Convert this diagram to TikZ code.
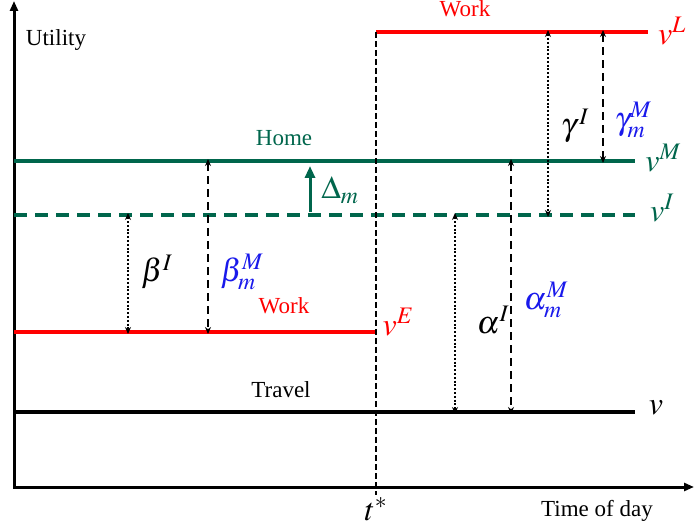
\documentclass[tikz,border=0pt]{standalone}
\usepackage{mathptmx}
\usepackage{fontspec}
\setmainfont{Liberation Serif}
\newfontfamily\timesfont{Liberation Serif}
\usetikzlibrary{arrows.meta}
\definecolor{workred}{RGB}{255,0,0}
\definecolor{homegreen}{RGB}{0,102,76}
\definecolor{markblue}{RGB}{25,25,235}
\tikzset{
  every picture/.style={line join=miter, >=Stealth},
  axis/.style={line width=3pt, {Triangle[length=10pt,width=8pt]}-{Triangle[length=10pt,width=8pt]}},
  level/.style={line width=4pt},
  gap/.style={line width=2.4pt, dash pattern=on 8pt off 5pt, {Stealth[length=7pt,width=6pt]}-{Stealth[length=7pt,width=6pt]}},
  dotgap/.style={line width=2.6pt, dash pattern=on 2pt off 1.8pt, {Stealth[length=7pt,width=6pt]}-{Stealth[length=7pt,width=6pt]}},
  txt/.style={font=\timesfont\fontsize{23}{28}\selectfont},
  sym/.style={font=\fontsize{32}{38}\selectfont},
}
\begin{document}
\begin{tikzpicture}[x=1pt,y=-1pt]
\useasboundingbox (0,0) rectangle (694,529);
% axes
\coordinate (O) at (14,487);
\coordinate (ytop) at (14,1);
\coordinate (xend) at (694,487);
\draw[axis] (ytop) -- (O) -- (xend);
% utility levels
\foreach \n/\xa/\xb/\y in {L/376/648/32, M/14/635/161, I/14/635/215, E/14/376/332, T/14/635/412}{
  \coordinate (\n0) at (\xa,\y); \coordinate (\n1) at (\xb,\y);}
\draw[level, workred] (L0) -- (L1);
\draw[level, homegreen] (M0) -- (M1);
\draw[level, homegreen, dash pattern=on 13pt off 8pt] (I0) -- (I1);
\draw[level, workred] (E0) -- (E1);
\draw[level] (T0) -- (T1);
% t star
\coordinate (tb) at (376,495);
\draw[line width=1.8pt, dash pattern=on 6pt off 3pt] (L0) -- (tb);
% gaps between levels
\foreach \x/\a/\b/\s in {128/I/E/dotgap, 208/M/E/gap, 455/I/T/dotgap, 511/M/T/gap, 548/L/I/dotgap, 603/L/M/gap}{
  \coordinate (m\x) at (\x,0);
  \draw[\s] ([yshift=2pt]m\x |- \a0) -- ([yshift=-2pt]m\x |- \b0);}
\coordinate (D0) at (310,212);
\coordinate (D1) at (310,166);
\draw[homegreen, line width=3pt, -{Triangle[length=12pt,width=10pt]}] (D0) -- (D1);
% labels
\node[txt] (util) at (56,40) {Utility};
\node[txt] (tod) at (597,511) {Time of day};
\node[txt, workred] (workL) at (465,9) {Work};
\node[txt, homegreen] (home) at (284,138) {Home};
\node[txt, workred] (workE) at (284,306) {Work};
\node[txt] (travel) at (281,390) {Travel};
\node[sym, workred] (vL) at (672,31) {$v^L$};
\node[sym, homegreen] (vM) at (663,158) {$v^M$};
\node[sym, homegreen] (vI) at (662,208) {$v^I$};
\node[sym, workred] (vE) at (398,322) {$v^E$};
\node[sym] (v) at (656,408) {$v$};
\node[sym] (tstar) at (376,509) {$t^*$};
\node[sym] (betaI) at (157,272) {$\beta^I$};
\node[sym, markblue] (betaM) at (242,272) {$\beta^{M}_{m}$};
\node[sym] (alphaI) at (493,320) {$\alpha^I$};
\node[sym, markblue] (alphaM) at (546,300) {$\alpha^{M}_{m}$};
\node[sym] (gammaI) at (575,126) {$\gamma^{\,I}$};
\node[sym, markblue] (gammaM) at (633,120) {$\gamma^{M}_{m}$};
\node[sym, homegreen] (delta) at (340,190) {$\Delta_m$};
\end{tikzpicture}
\end{document}
